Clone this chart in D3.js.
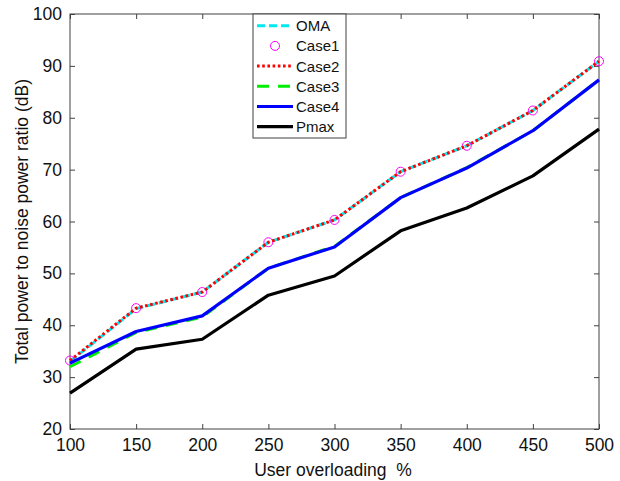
<!DOCTYPE html>
<html>
<head>
<meta charset="utf-8">
<script src="https://cdn.jsdelivr.net/npm/d3@7"></script>
<style>
  html, body { margin: 0; padding: 0; background: #fff; }
  svg { display: block; font-family: "Liberation Sans", Arial, sans-serif; }
</style>
</head>
<body>
<svg id="chart" width="620" height="481"></svg>
<script>
// User overloading (%) on the x axis
const overloading = [100, 150, 200, 250, 300, 350, 400, 450, 500];

// Total power to noise power ratio (dB) per scheme
const oma   = [33.0, 43.2, 46.4, 56.0, 60.3, 69.6, 74.6, 81.4, 90.9];
const case1 = [33.2, 43.3, 46.4, 56.0, 60.3, 69.6, 74.6, 81.4, 90.9];
const case2 = [33.2, 43.3, 46.4, 56.0, 60.3, 69.6, 74.6, 81.4, 90.9];
const case3 = [32.0, 38.6, 41.6, 51.0, 55.2, 64.6, 70.4, 77.5, 87.3];
const case4 = [32.7, 38.8, 41.8, 51.0, 55.1, 64.6, 70.3, 77.5, 87.3];
const pmax  = [26.9, 35.4, 37.3, 45.8, 49.5, 58.2, 62.6, 68.8, 77.8];

const xTicks = [100, 150, 200, 250, 300, 350, 400, 450, 500];
const yTicks = [20, 30, 40, 50, 60, 70, 80, 90, 100];
const legendNames = ["OMA", "Case1", "Case2", "Case3", "Case4", "Pmax"];

const svg = d3.select("#chart");
const L = 70, R = 599, T = 14, B = 429;

const x = d3.scaleLinear().domain([100, 500]).range([L, R]);
const y = d3.scaleLinear().domain([20, 100]).range([B, T]);

const axisColor = "#404040";
const fontSize = "17.5px";

// frame
svg.append("rect")
  .attr("x", L).attr("y", T).attr("width", R - L).attr("height", B - T)
  .attr("fill", "none").attr("stroke", axisColor).attr("stroke-width", 1);

// axes with inward ticks on all four sides
const tickLen = 5;
const bottomAxis = svg.append("g").attr("transform", `translate(0,${B})`)
  .call(d3.axisBottom(x).tickValues(xTicks).tickSizeInner(-tickLen).tickSizeOuter(0).tickPadding(10));
const topAxis = svg.append("g").attr("transform", `translate(0,${T})`)
  .call(d3.axisTop(x).tickValues(xTicks).tickSizeInner(-tickLen).tickSizeOuter(0).tickFormat(""));
const leftAxis = svg.append("g").attr("transform", `translate(${L},0)`)
  .call(d3.axisLeft(y).tickValues(yTicks).tickSizeInner(-tickLen).tickSizeOuter(0).tickPadding(8));
const rightAxis = svg.append("g").attr("transform", `translate(${R},0)`)
  .call(d3.axisRight(y).tickValues(yTicks).tickSizeInner(-tickLen).tickSizeOuter(0).tickFormat(""));

[bottomAxis, topAxis, leftAxis, rightAxis].forEach(g => {
  g.select(".domain").remove();
  g.selectAll(".tick line").attr("stroke", axisColor);
  g.selectAll(".tick text").attr("fill", "#111").style("font-size", fontSize)
    .style("font-family", "'Liberation Sans', Arial, sans-serif");
});

// axis titles
svg.append("text")
  .attr("x", 333).attr("y", 476)
  .attr("text-anchor", "middle").attr("fill", "#111")
  .style("font-size", fontSize)
  .attr("xml:space", "preserve")
  .text("User overloading  %");

svg.append("text")
  .attr("transform", `translate(28,${(T + B) / 2}) rotate(-90)`)
  .attr("text-anchor", "middle").attr("fill", "#111")
  .style("font-size", fontSize)
  .text("Total power to noise power ratio (dB)");

const line = d3.line().x((d, i) => x(overloading[i])).y(d => y(d));

const styles = [
  { data: oma,   color: "#00e8f0", width: 3, dash: "8,4" },
  { data: null },
  { data: case2, color: "#ff0000", width: 3, dash: "2.6,2.6" },
  { data: case3, color: "#00ee00", width: 3, dash: "12,9" },
  { data: case4, color: "#0000ff", width: 3.2, dash: null },
  { data: pmax,  color: "#000000", width: 3.2, dash: null }
];

const plot = svg.append("g");

function drawLine(s) {
  plot.append("path").datum(s.data)
    .attr("d", line)
    .attr("fill", "none")
    .attr("stroke", s.color)
    .attr("stroke-width", s.width)
    .attr("stroke-dasharray", s.dash)
    .attr("stroke-linejoin", "round");
}

// OMA
drawLine(styles[0]);

// Case1 markers
plot.selectAll("circle.case1").data(case1).enter().append("circle")
  .attr("class", "case1")
  .attr("cx", (d, i) => x(overloading[i]))
  .attr("cy", d => y(d))
  .attr("r", 4.5)
  .attr("fill", "none")
  .attr("stroke", "#ff00ff")
  .attr("stroke-width", 1);

drawLine(styles[2]);
drawLine(styles[3]);
drawLine(styles[4]);
drawLine(styles[5]);

// legend
const lgX = 253, lgY = 14, lgW = 93, lgH = 124;
const legend = svg.append("g");
legend.append("rect")
  .attr("x", lgX).attr("y", lgY).attr("width", lgW).attr("height", lgH)
  .attr("fill", "#fff").attr("stroke", axisColor).attr("stroke-width", 1);

legendNames.forEach((name, i) => {
  const cy = 25.7 + i * 20.2;
  const s = styles[i];
  if (i === 1) {
    legend.append("circle")
      .attr("cx", 275).attr("cy", cy).attr("r", 4.5)
      .attr("fill", "none").attr("stroke", "#ff00ff").attr("stroke-width", 1);
  } else {
    legend.append("line")
      .attr("x1", 257).attr("x2", 293).attr("y1", cy).attr("y2", cy)
      .attr("stroke", s.color).attr("stroke-width", s.width)
      .attr("stroke-dasharray", s.dash);
  }
  legend.append("text")
    .attr("x", 296).attr("y", cy + 5.5)
    .attr("fill", "#111")
    .style("font-size", "15px")
    .text(name);
});
</script>
</body>
</html>
